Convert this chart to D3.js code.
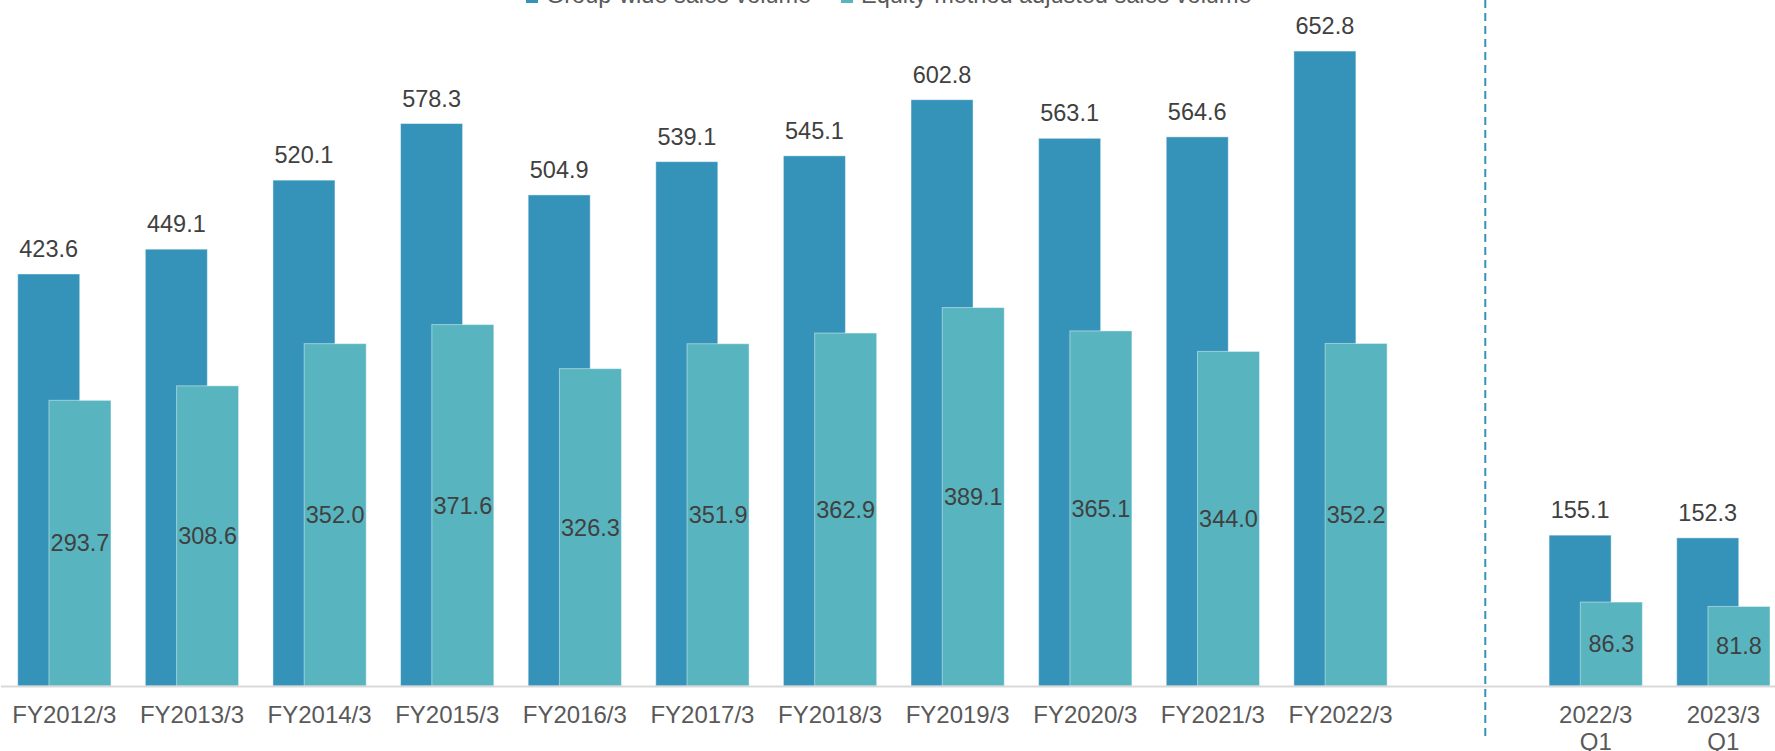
<!DOCTYPE html>
<html>
<head>
<meta charset="utf-8">
<script src="https://cdn.jsdelivr.net/npm/d3@7"></script>
<style>
  html, body { margin: 0; padding: 0; background: #ffffff; overflow: hidden; }
  svg { display: block; font-family: "Liberation Sans", Arial, sans-serif; }
</style>
</head>
<body>
<svg id="chart" width="1775" height="751"></svg>
<script>
// ---- data ----
const categories = ["FY2012/3","FY2013/3","FY2014/3","FY2015/3","FY2016/3","FY2017/3","FY2018/3","FY2019/3","FY2020/3","FY2021/3","FY2022/3","gap","2022/3|Q1","2023/3|Q1"];
const groupWide = [423.6,449.1,520.1,578.3,504.9,539.1,545.1,602.8,563.1,564.6,652.8,null,155.1,152.3];
const equityAdjusted = [293.7,308.6,352.0,371.6,326.3,351.9,362.9,389.1,365.1,344.0,352.2,null,86.3,81.8];
const seriesNames = ["Group-wide sales volume","Equity-method adjusted sales volume"];

// ---- layout ----
const W = 1775, H = 751;
const baseY = 686;
const colDark = "#3593ba", colLight = "#58b5bf";
const svg = d3.select("#chart");

const x = d3.scaleBand().domain(categories).range([17.7, 1770]).paddingInner(0.269).paddingOuter(0);
const y = d3.scaleLinear().domain([0, 705.3]).range([baseY, 0]);
const bw = x.bandwidth();
const barW = bw * 0.665;
const offset = bw - barW;

const rows = categories.map((c, i) => ({c, g: groupWide[i], e: equityAdjusted[i]})).filter(d => d.g != null);

// dark bars
svg.append("g").selectAll("rect").data(rows).join("rect")
  .attr("x", d => x(d.c)).attr("width", barW)
  .attr("y", d => y(d.g)).attr("height", d => y(0) - y(d.g))
  .attr("fill", colDark).attr("stroke", "rgba(255,255,255,0.45)").attr("stroke-width", 1);
// light bars
svg.append("g").selectAll("rect").data(rows).join("rect")
  .attr("x", d => x(d.c) + offset).attr("width", barW)
  .attr("y", d => y(d.e)).attr("height", d => y(0) - y(d.e))
  .attr("fill", colLight).attr("stroke", "rgba(255,255,255,0.45)").attr("stroke-width", 1);

// labels dark (above)
svg.append("g").selectAll("text").data(rows).join("text")
  .attr("x", d => x(d.c) + barW / 2).attr("y", d => y(d.g) - 17)
  .attr("text-anchor", "middle").attr("font-size", 23.5).attr("fill", "#404040")
  .text(d => d.g.toFixed(1));
// labels light (centered inside)
svg.append("g").selectAll("text").data(rows).join("text")
  .attr("x", d => x(d.c) + offset + barW / 2).attr("y", d => (y(d.e) + y(0)) / 2)
  .attr("dy", "0.35em")
  .attr("text-anchor", "middle").attr("font-size", 23.5).attr("fill", "#404040")
  .text(d => d.e.toFixed(1));

// baseline
svg.append("line").attr("x1", 1).attr("x2", W).attr("y1", baseY + 0.5).attr("y2", baseY + 0.5)
  .attr("stroke", "#d9d9d9").attr("stroke-width", 2);

// x axis
const ax = svg.append("g").attr("transform", `translate(0,${baseY})`)
  .call(d3.axisBottom(x).tickSize(0).tickFormat(""));
ax.select(".domain").remove();
ax.selectAll(".tick").each(function(c) {
  if (c === "gap") return;
  const t = d3.select(this).append("text")
    .attr("y", 37).attr("text-anchor", "middle")
    .attr("font-size", 24).attr("fill", "#595959");
  c.split("|").forEach((s, i) => {
    t.append("tspan").attr("x", 0).attr("dy", i === 0 ? 0 : 27).text(s);
  });
});

// dashed separator
const sepX = x("gap") + x.step() / 2;
svg.append("line").attr("x1", sepX).attr("x2", sepX).attr("y1", 0).attr("y2", 740)
  .attr("stroke", colDark).attr("stroke-width", 2).attr("stroke-dasharray", "8,5");

// legend (partially clipped at top, as in reference)
const legend = [
  {name: seriesNames[0], color: colDark, x: 526},
  {name: seriesNames[1], color: colLight, x: 841}
];
const lg = svg.append("g");
legend.forEach(l => {
  lg.append("rect").attr("x", l.x).attr("y", -9).attr("width", 12).attr("height", 12).attr("fill", l.color);
  lg.append("text").attr("x", l.x + 20).attr("y", 3).attr("font-size", 23.5).attr("fill", "#595959").text(l.name);
});
</script>
</body>
</html>
